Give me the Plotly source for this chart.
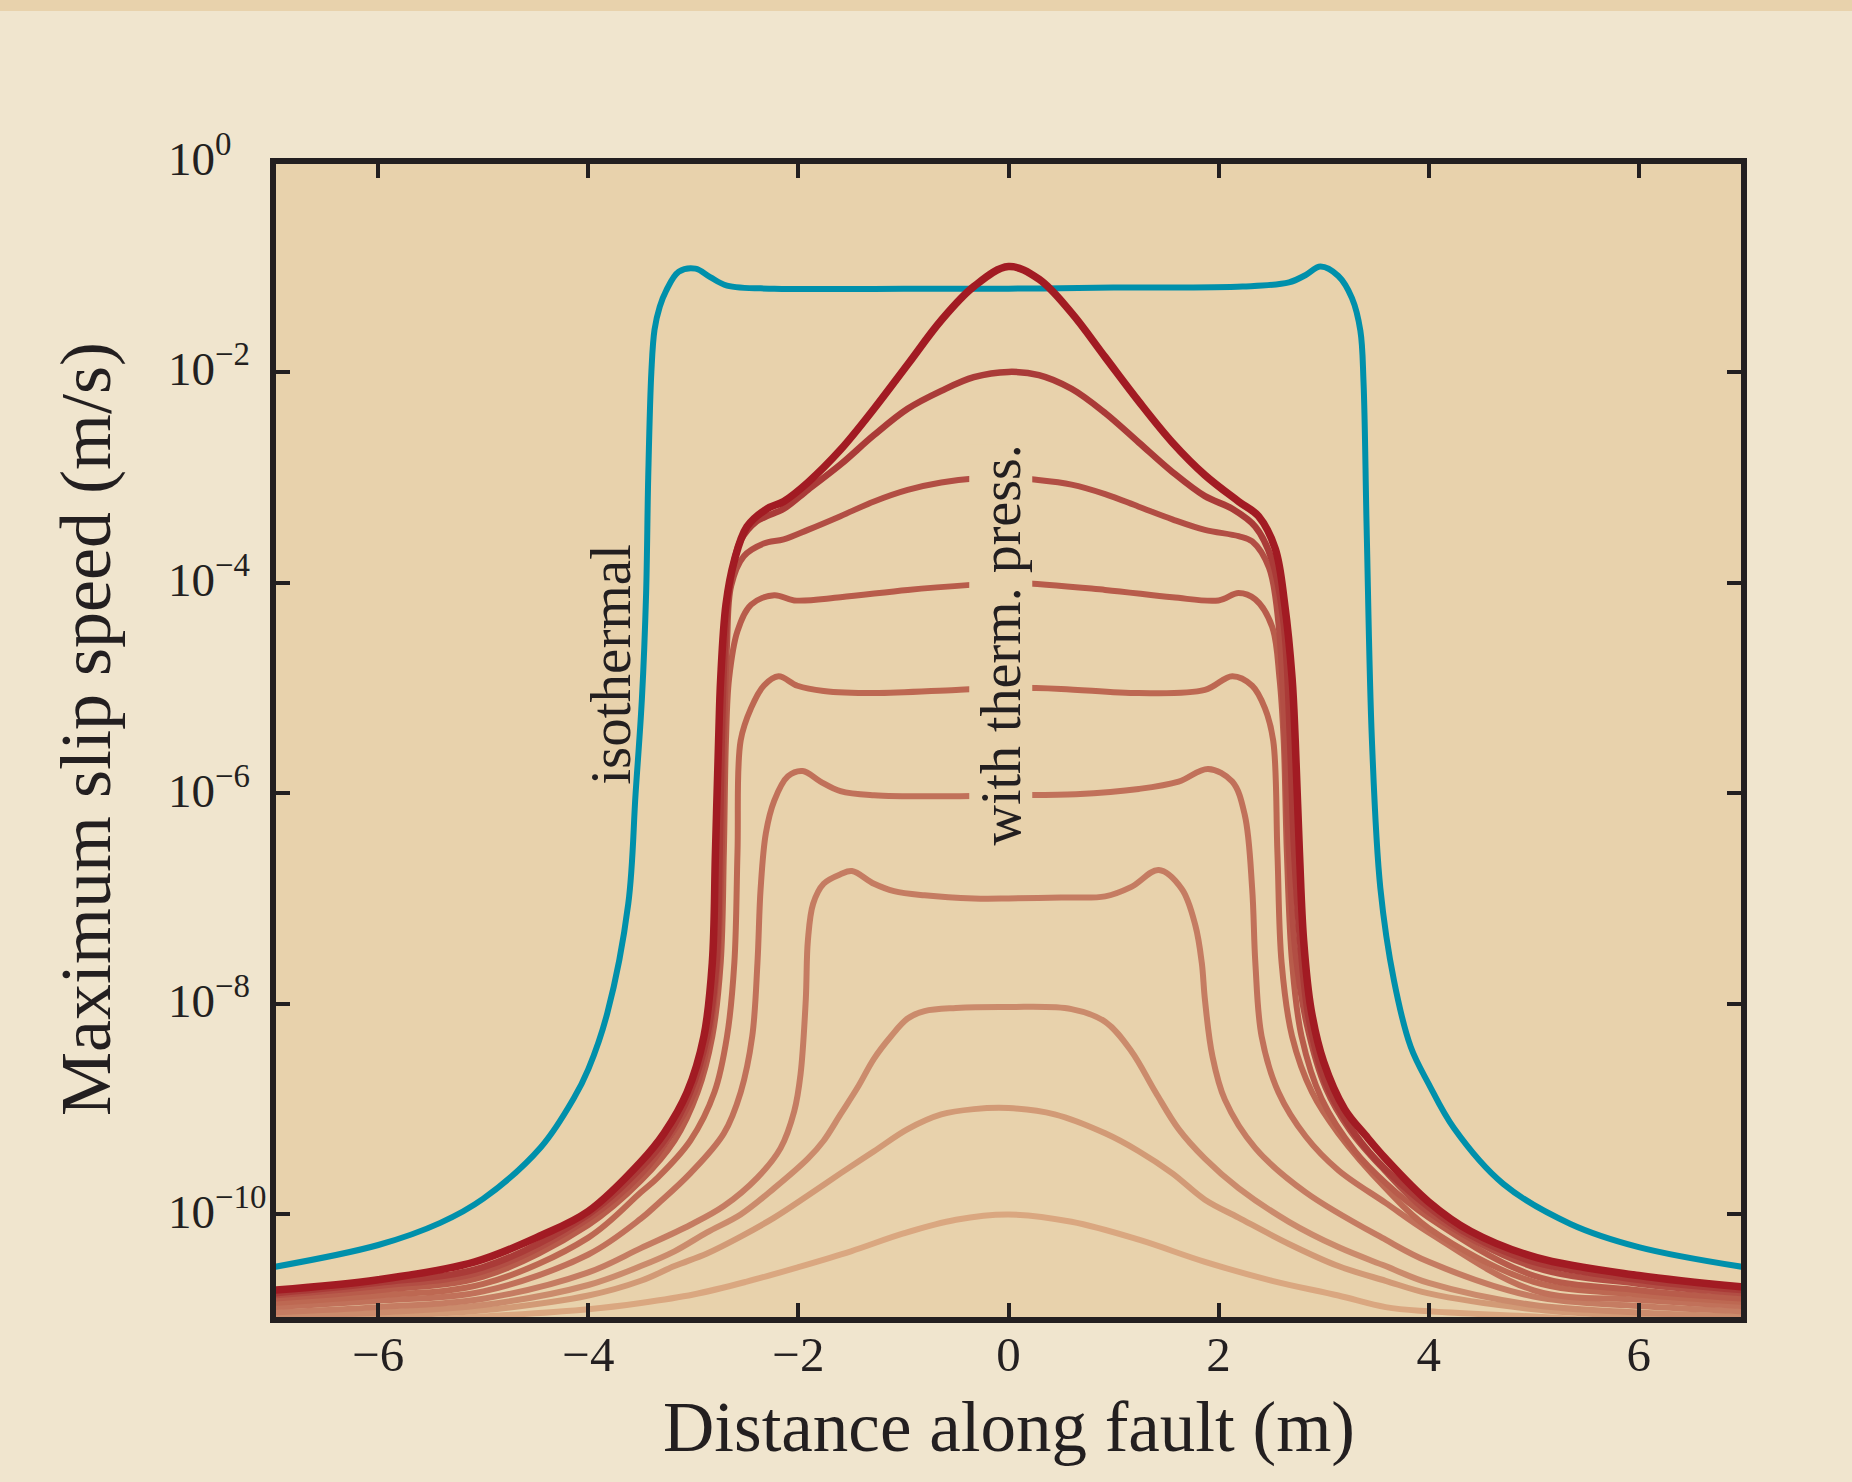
import numpy as np
import plotly.graph_objects as go

# ---------------- data (x in m, values are log10 of slip speed in m/s) ----------------
iso_x = [-7, -6, -5.41, -5, -4.45, -4.14, -4.0, -3.82, -3.62, -3.55, -3.49, -3.45, -3.43, -3.40, -3.37,
         -3.32, -3.26, -3.14, -2.98, -2.84, -2.68, -2.23, -1.0, 0, 1.0, 2.23, 2.67, 2.83, 2.97, 3.14, 3.27,
         3.35, 3.38, 3.41, 3.46, 3.54, 3.67, 3.83, 4.0, 4.24, 4.71, 5.35, 6.0, 7.0]
iso_log = [-10.5, -10.29, -10.08, -9.85, -9.36, -8.9, -8.62, -8.09, -7.05, -6.0, -5.1, -4.1, -3.0, -2.0, -1.6,
           -1.38, -1.23, -1.05, -1.02, -1.1, -1.18, -1.21, -1.21, -1.21, -1.2, -1.19, -1.15, -1.08, -1.0, -1.09,
           -1.3, -1.61, -2.1, -3.5, -5.5, -6.9, -7.78, -8.41, -8.76, -9.18, -9.71, -10.09, -10.31, -10.5]

tp1_x = [-7, -6, -5, -4, -3.5, -3.0, -2.5, -2.0, -1.5, -1.0, -0.5, 0, 0.6, 1.24, 1.87, 2.51, 3.14, 3.59, 4.0, 5.0, 6.0, 7.0]
tp1_log = [-11.06, -11.03, -10.97, -10.9, -10.84, -10.76, -10.64, -10.5, -10.35, -10.18, -10.05, -10.0, -10.07,
           -10.24, -10.45, -10.63, -10.77, -10.88, -10.92, -10.97, -11.03, -11.06]

tp2_x = [-7, -6, -5, -4, -3.5, -3.18, -2.87, -2.55, -2.23, -1.91, -1.6, -1.28, -0.96, -0.64, -0.33, 0, 0.44,
         0.92, 1.24, 1.56, 1.87, 2.19, 2.67, 3.14, 3.59, 4.0, 5.0, 6.0, 7.0]
tp2_log = [-11.01, -10.97, -10.91, -10.77, -10.63, -10.49, -10.37, -10.21, -10.03, -9.82, -9.61, -9.4, -9.19,
           -9.05, -9.0, -8.99, -9.05, -9.23, -9.4, -9.61, -9.86, -10.03, -10.28, -10.49, -10.63, -10.75, -10.9,
           -10.97, -11.01]

tp3_x = [-7, -6, -5, -4, -3.5, -3.18, -2.87, -2.55, -2.23, -1.91, -1.76, -1.6, -1.44, -1.28, -1.12, -0.96,
         -0.8, -0.5, 0, 0.6, 0.92, 1.17, 1.4, 1.62, 1.87, 2.19, 2.67, 3.14, 3.59, 4.0, 5.0, 6.0, 7.0]
tp3_log = [-10.97, -10.93, -10.86, -10.67, -10.49, -10.35, -10.17, -10.0, -9.75, -9.47, -9.3, -9.05, -8.8,
           -8.52, -8.31, -8.14, -8.07, -8.04, -8.03, -8.05, -8.17, -8.45, -8.84, -9.19, -9.47, -9.75, -10.07,
           -10.31, -10.49, -10.65, -10.86, -10.93, -10.97]

tp4_x = [-7, -6, -5, -4, -3.5, -3.03, -2.71, -2.39, -2.17, -2.04, -1.98, -1.93, -1.91, -1.86, -1.76, -1.6,
         -1.49, -1.28, -1.09, -0.8, -0.33, 0, 0.5, 0.92, 1.17, 1.43, 1.65, 1.78, 1.84, 1.87, 1.94, 2.06, 2.35,
         2.83, 3.59, 4.0, 5.0, 6.0, 7.0]
tp4_log = [-10.93, -10.88, -10.8, -10.55, -10.32, -10.1, -9.92, -9.65, -9.37, -9.02, -8.67, -7.96, -7.4,
           -7.05, -6.86, -6.77, -6.74, -6.86, -6.93, -6.97, -7.0, -7.0, -6.99, -6.98, -6.89, -6.73, -6.91,
           -7.26, -7.61, -7.96, -8.49, -8.91, -9.37, -9.79, -10.24, -10.45, -10.78, -10.87, -10.92]

tp5_x = [-7, -6, -5, -4, -3.5, -3.34, -3.03, -2.71, -2.55, -2.44, -2.39, -2.36, -2.31, -2.23, -2.1, -1.96,
         -1.79, -1.6, -1.28, -0.64, 0, 0.64, 1.24, 1.62, 1.9, 2.13, 2.25, 2.32, 2.35, 2.41, 2.57, 2.83, 3.14,
         3.59, 4.0, 5.0, 6.0, 7.0]
tp5_log = [-10.88, -10.82, -10.73, -10.38, -10.04, -9.9, -9.61, -9.23, -8.84, -8.31, -7.61, -6.91, -6.38,
           -6.07, -5.84, -5.79, -5.89, -5.98, -6.02, -6.03, -6.02, -6.01, -5.96, -5.89, -5.77, -5.89, -6.21,
           -6.91, -7.61, -8.31, -8.84, -9.26, -9.58, -9.89, -10.17, -10.72, -10.81, -10.87]

tp6_x = [-7, -6, -5, -4, -3.5, -3.34, -3.03, -2.8, -2.68, -2.61, -2.58, -2.55, -2.45, -2.33, -2.19, -2.01,
         -1.76, -1.28, -0.5, 0, 0.5, 1.24, 1.87, 2.13, 2.32, 2.44, 2.52, 2.56, 2.6, 2.7, 2.89, 3.14, 3.59, 4.0,
         5.0, 6.0, 7.0]
tp6_log = [-10.84, -10.77, -10.66, -10.22, -9.79, -9.65, -9.3, -8.84, -8.31, -7.61, -6.56, -5.5, -5.19,
           -4.98, -4.89, -4.98, -5.03, -5.05, -5.02, -5.0, -5.01, -5.05, -5.02, -4.89, -4.98, -5.19, -5.5,
           -6.56, -7.61, -8.31, -8.84, -9.23, -9.75, -10.13, -10.64, -10.76, -10.83]

tp7_x = [-7, -6, -5, -4, -3.5, -3.18, -2.96, -2.82, -2.74, -2.71, -2.69, -2.66, -2.58, -2.45, -2.23, -2.04,
         -1.6, -0.96, -0.33, 0, 0.92, 1.56, 2.0, 2.19, 2.35, 2.51, 2.58, 2.62, 2.65, 2.70, 2.79, 2.98, 3.3,
         3.59, 4.0, 5.0, 6.0, 7.0]
tp7_log = [-10.80, -10.72, -10.59, -10.1, -9.68, -9.3, -8.84, -8.31, -7.61, -6.56, -5.5, -4.91, -4.46,
           -4.21, -4.12, -4.17, -4.14, -4.07, -4.02, -4.0, -4.07, -4.14, -4.17, -4.1, -4.16, -4.42, -4.91,
           -5.5, -6.56, -7.61, -8.31, -8.9, -9.4, -9.7, -10.03, -10.58, -10.72, -10.8]

tp8_x = [-7, -6, -5, -4, -3.5, -3.22, -2.99, -2.85, -2.77, -2.73, -2.71, -2.68, -2.64, -2.52, -2.33, -2.14,
         -1.91, -1.6, -1.28, -0.96, -0.64, -0.3, 0, 0.22, 0.6, 0.92, 1.24, 1.56, 1.87, 2.19, 2.32, 2.48, 2.57,
         2.63, 2.67, 2.73, 2.84, 3.02, 3.25, 3.55, 4.0, 5.0, 6.0, 7.0]
tp8_log = [-10.77, -10.68, -10.54, -10.04, -9.62, -9.26, -8.84, -8.31, -7.61, -6.56, -5.5, -4.6, -4.03,
           -3.75, -3.63, -3.59, -3.50, -3.37, -3.23, -3.12, -3.05, -3.01, -3.0, -3.02, -3.07, -3.16, -3.28,
           -3.4, -3.5, -3.56, -3.61, -3.86, -4.39, -5.5, -6.56, -7.5, -8.2, -8.8, -9.2, -9.55, -9.98, -10.5,
           -10.66, -10.75]

tp9_x = [-7, -6, -5, -4, -3.5, -3.25, -3.03, -2.87, -2.78, -2.75, -2.73, -2.70, -2.65, -2.55, -2.4, -2.3,
         -2.14, -1.91, -1.6, -1.28, -0.96, -0.64, -0.33, 0, 0.29, 0.6, 0.92, 1.24, 1.56, 1.87, 2.13, 2.35, 2.51,
         2.62, 2.68, 2.72, 2.78, 2.86, 3.02, 3.24, 3.5, 4.0, 4.4, 5.0, 6.0, 7.0]
tp9_log = [-10.75, -10.65, -10.5, -10.0, -9.56, -9.26, -8.84, -8.31, -7.61, -6.56, -5.5, -4.6, -4.0, -3.6,
           -3.42, -3.37, -3.30, -3.12, -2.88, -2.6, -2.35, -2.18, -2.05, -2.0, -2.03, -2.16, -2.39, -2.67,
           -2.95, -3.18, -3.30, -3.47, -3.79, -4.39, -5.5, -6.56, -7.45, -8.15, -8.75, -9.15, -9.48, -9.93, -10.2,
           -10.45, -10.62, -10.72]

tp10_x = [-7, -6, -5.08, -4.45, -4.0, -3.5, -3.28, -3.06, -2.9, -2.82, -2.79, -2.76, -2.74, -2.69, -2.61,
          -2.49, -2.3, -2.14, -1.91, -1.6, -1.28, -0.96, -0.64, -0.33, 0, 0.29, 0.6, 0.92, 1.24, 1.56, 1.87,
          2.19, 2.38, 2.54, 2.63, 2.70, 2.73, 2.77, 2.81, 2.88, 3.0, 3.2, 3.4, 3.59, 4.0, 4.4, 5.03, 6.0, 7.0]
tp10_log = [-10.72, -10.62, -10.45, -10.2, -9.97, -9.5, -9.23, -8.84, -8.31, -7.61, -6.56, -5.5, -4.91,
            -4.21, -3.79, -3.47, -3.3, -3.23, -3.05, -2.74, -2.35, -1.93, -1.51, -1.19, -1.0, -1.12, -1.44,
            -1.86, -2.28, -2.67, -2.98, -3.23, -3.37, -3.68, -4.21, -4.91, -5.5, -6.56, -7.4, -8.05, -8.55,
            -9.0, -9.25, -9.47, -9.88, -10.16, -10.41, -10.58, -10.69]

tp_series = [(tp1_x, tp1_log), (tp2_x, tp2_log), (tp3_x, tp3_log), (tp4_x, tp4_log), (tp5_x, tp5_log),
             (tp6_x, tp6_log), (tp7_x, tp7_log), (tp8_x, tp8_log), (tp9_x, tp9_log), (tp10_x, tp10_log)]
tp_colors = ["#daa780", "#d29a76", "#cb8b6c", "#c57c62", "#c1715a", "#bd6852", "#b85c4b", "#b24e44",
             "#aa3b38", "#a21b23"]
tp_widths = [6, 6, 6, 6, 6, 6, 6, 6, 6.5, 7.5]

x_tick_vals = [-6, -4, -2, 0, 2, 4, 6]
y_tick_exps = [0, -2, -4, -6, -8, -10]
y_tick_text = ["10<sup>0</sup>", "10<sup>−2</sup>", "10<sup>−4</sup>", "10<sup>−6</sup>",
               "10<sup>−8</sup>", "10<sup>−10</sup>"]

# ---------------- figure ----------------
W, H = 1852, 1482
LW = 5.5                       # axis line width (drawn outside the plot area by LW/2)
L, R, T, B = 276, 111, 164, 165
pw, ph = W - L - R, H - T - B
x_pad = (LW / 2) / (pw / 14.0)  # so that the axis-line centres sit at x = -7 and x = 7
y_pad = (LW / 2) / (ph / 11.0)
x_range = [-7 + x_pad, 7 - x_pad]
y_range = [-11 + y_pad, 0 - y_pad]
FONT = "Liberation Serif, Times New Roman, serif"
INK = "#231f20"
PLOT_BG = "#e8d2ac"
SMOOTH = 1.0

fig = go.Figure()

fig.add_trace(go.Scatter(x=iso_x, y=10 ** np.array(iso_log), mode="lines",
                         line=dict(color="#0090ab", width=6, shape="spline", smoothing=SMOOTH),
                         showlegend=False, hoverinfo="skip"))

for (xs, ls), c, w in zip(tp_series, tp_colors, tp_widths):
    fig.add_trace(go.Scatter(x=xs, y=10 ** np.array(ls), mode="lines",
                             line=dict(color=c, width=w, shape="spline", smoothing=SMOOTH),
                             showlegend=False, hoverinfo="skip"))


def y_to_paper(e):
    return (e - y_range[0]) / (y_range[1] - y_range[0])


annotations = []
for e, t in zip(y_tick_exps, y_tick_text):
    annotations.append(dict(xref="paper", yref="paper", x=(166 - L) / pw, y=y_to_paper(e), text=t,
                            showarrow=False, xanchor="left", yanchor="middle", yshift=6,
                            font=dict(family=FONT, size=47, color=INK)))

annotations.append(dict(xref="x", yref="y", x=-3.79, y=-4.777, text="isothermal", textangle=-90,
                        showarrow=False, xanchor="center", yanchor="middle",
                        font=dict(family=FONT, size=57, color=INK)))
annotations.append(dict(xref="x", yref="y", x=-0.07, y=-4.597, text="with therm. press.", textangle=-90,
                        showarrow=False, xanchor="center", yanchor="middle", bgcolor=PLOT_BG, borderpad=0,
                        font=dict(family=FONT, size=56, color=INK)))
annotations.append(dict(xref="paper", yref="paper", x=0.5, y=(H - B - 1427) / ph,
                        text="Distance along fault (m)", showarrow=False, xanchor="center", yanchor="middle",
                        font=dict(family=FONT, size=71, color=INK)))
annotations.append(dict(xref="paper", yref="paper", x=(86 - L) / pw, y=(H - B - 729) / ph,
                        text="Maximum slip speed (m/s)", textangle=-90, showarrow=False,
                        xanchor="center", yanchor="middle",
                        font=dict(family=FONT, size=72, color=INK)))

shapes = [dict(type="rect", xref="paper", yref="paper", x0=-L / pw, x1=(W - L) / pw,
               y0=(H - B - 11) / ph, y1=(H - B) / ph, fillcolor="#e8d2ac", line=dict(width=0),
               layer="below")]

fig.update_layout(
    width=W, height=H,
    margin=dict(l=L, r=R, t=T, b=B, autoexpand=False),
    paper_bgcolor="#f0e5ce", plot_bgcolor=PLOT_BG,
    font=dict(family=FONT, color=INK),
    showlegend=False,
    annotations=annotations,
    shapes=shapes,
    xaxis=dict(range=x_range, tickmode="array", tickvals=x_tick_vals, ticks="inside",
               ticklen=14, tickwidth=4, tickcolor=INK, showline=True, linecolor=INK, linewidth=LW,
               mirror="ticks", showgrid=False, zeroline=False, ticklabelstandoff=-11,
               tickfont=dict(family=FONT, size=49, color=INK)),
    yaxis=dict(type="log", range=y_range, tickmode="array",
               tickvals=[10.0 ** e for e in y_tick_exps],
               showticklabels=False, ticks="inside", ticklen=14, tickwidth=4, tickcolor=INK,
               showline=True, linecolor=INK, linewidth=LW, mirror="ticks", showgrid=False, zeroline=False),
)

fig.write_html("out.html", config={"displayModeBar": False},
               post_script="document.body.style.margin='0px';document.body.style.overflow='hidden';")
